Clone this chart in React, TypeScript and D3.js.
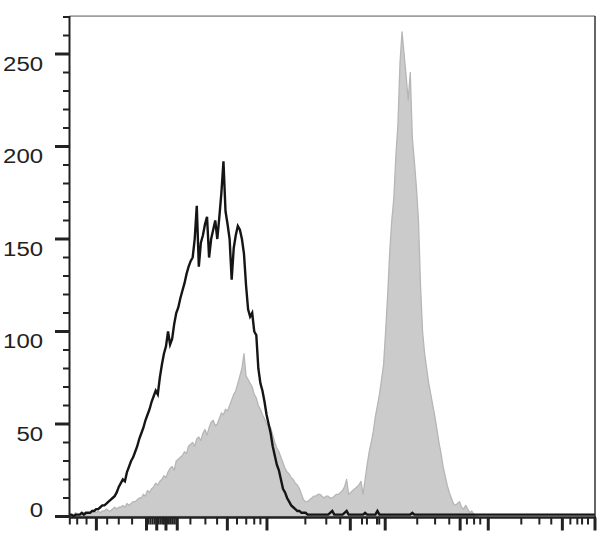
import React from "react";
import * as d3 from "d3";

// Histogram bins (display channel 0..256 across the logicle axis)
const controlCounts: number[] = [
  1, 1, 0, 1, 1, 1, 2, 1, 2, 2, 2, 3, 3, 4, 4, 5, 6, 6, 7, 8,
  9, 10, 11, 13, 16, 18, 20, 19, 24, 27, 30, 32, 35, 38, 42, 45, 48, 52, 55, 58,
  62, 65, 68, 66, 75, 82, 88, 92, 100, 93, 96, 104, 110, 113, 118, 122, 126, 131, 135, 138,
  140, 150, 168, 135, 148, 152, 158, 162, 140, 150, 155, 160, 150, 162, 175, 192, 165, 158, 150, 128,
  145, 152, 157, 155, 150, 142, 125, 112, 108, 110, 100, 98, 80, 72, 68, 62, 55, 50, 45, 38,
  33, 28, 25, 20, 15, 13, 10, 8, 6, 5, 4, 3, 3, 2, 2, 2, 1, 1, 1, 1,
  1, 1, 1, 1, 1, 1, 1, 2, 3, 1, 1, 1, 1, 1, 2, 3, 1, 1, 1, 1,
  1, 1, 1, 1, 2, 1, 1, 1, 1, 1, 3, 1, 1, 1, 1, 1, 1, 1, 1, 1,
  1, 1, 1, 1, 1, 1, 1, 2, 1, 1, 1, 1, 1, 1, 1, 1, 1, 1, 1, 1,
  1, 1, 1, 1, 1, 1, 1, 1, 1, 1, 1, 1, 1, 1, 1, 1, 1, 1, 1, 1,
  1, 1, 1, 1, 1, 1, 1, 1, 1, 1, 1, 1, 1, 1, 1, 1, 1, 1, 1, 1,
  1, 1, 1, 1, 1, 1, 1, 1, 1, 1, 1, 1, 1, 1, 1, 1, 1, 1, 1, 1,
  1, 1, 1, 1, 1, 1, 1, 1, 1, 1, 1, 1, 1, 1, 1, 1, 1,
];

const stainedCounts: number[] = [
  1, 1, 1, 2, 1, 1, 2, 2, 1, 2, 2, 2, 3, 2, 3, 2, 3, 3, 4, 3,
  3, 4, 5, 4, 5, 5, 6, 5, 7, 6, 7, 8, 8, 9, 10, 10, 12, 11, 14, 13,
  15, 16, 18, 17, 19, 20, 22, 21, 24, 26, 27, 25, 30, 31, 32, 33, 35, 34, 38, 39,
  40, 38, 42, 43, 41, 45, 47, 44, 48, 51, 52, 49, 50, 53, 56, 55, 58, 57, 60, 63,
  66, 68, 72, 76, 80, 88, 76, 74, 72, 70, 66, 64, 60, 58, 55, 53, 50, 49, 48, 44,
  40, 37, 35, 32, 29, 26, 24, 23, 21, 20, 18, 17, 15, 12, 9, 8, 8, 9, 10, 11,
  11, 12, 12, 11, 10, 11, 11, 10, 10, 11, 12, 12, 13, 14, 16, 20, 12, 13, 14, 15,
  16, 17, 19, 12, 20, 28, 35, 40, 46, 54, 60, 66, 74, 82, 100, 120, 143, 160, 172, 195,
  212, 245, 262, 250, 238, 225, 240, 205, 192, 178, 160, 125, 100, 88, 80, 72, 66, 60, 54, 47,
  40, 34, 27, 22, 17, 13, 10, 7, 6, 7, 8, 5, 4, 6, 4, 2, 3, 1, 0, 0,
];

const yTickValues: number[] = [0, 50, 100, 150, 200, 250];
const yTickLabels: string[] = ["0", "50", "100", "150", "200", "250"];
const yMinorValues: number[] = [10, 20, 30, 40, 60, 70, 80, 90, 110, 120, 130, 140, 160, 170, 180, 190, 210, 220, 230, 240, 260, 270];

// x-axis tick channels (logicle axis, no labels)
const xLongTicks: number[] = [13.1, 37.5, 42.5, 47, 52.5, 76.9, 96.2, 136.8, 153.8, 190.3, 204, 240.1, 256];
const xShortTicks: number[] = [
  0.15, 3.75, 8.3, 18.35, 24, 30.5,
  38.5, 39.5, 40.5, 41.5, 43.5, 44.5, 45.5, 46, 48, 49, 50, 51, 52,
  58.9, 66.2, 71.9, 81.6, 86.1, 90, 93,
  114.9, 125.1, 131.9, 142.5, 144.9, 149.8, 150.9,
  169.4, 178.1, 185, 193.6, 197.1, 200.1,
  220.1, 228.9, 234.7, 244, 247.4, 249.7, 252.6,
];

const W = 608;
const H = 545;
const left = 69.5;
const right = 595;
const Y0 = 516.5;
const Y250 = 54;
const yTop = 270.5;

export default function App() {
  const x = d3.scaleLinear().domain([0, 256]).range([left, right]);
  const y = d3.scaleLinear().domain([0, 250]).range([Y0, Y250]);

  const area = d3
    .area<number>()
    .x((_, i) => x(i))
    .y0(y(0))
    .y1((d) => y(d));
  const line = d3
    .line<number>()
    .x((_, i) => x(i))
    .y((d) => y(d));

  const axisY = y(0) + 1;
  const font = "'Liberation Sans', Arial, sans-serif";

  return (
    <svg
      width={W}
      height={H}
      style={{ position: "absolute", left: 0, top: 0, background: "#fff" }}
    >
      <rect x={0} y={0} width={W} height={H} fill="#fff" />
      {/* stained histogram */}
      <path d={area(stainedCounts) || ""} fill="#cbcbcb" stroke="#b6b6b6" strokeWidth={1.3} strokeLinejoin="round" />
      {/* control histogram */}
      <path d={line(controlCounts) || ""} fill="none" stroke="#151515" strokeWidth={2.4} strokeLinejoin="miter" />

      {/* frame */}
      <line x1={left} x2={right} y1={y(yTop)} y2={y(yTop)} stroke="#555" strokeWidth={1} />
      <line x1={right} x2={right} y1={y(yTop)} y2={axisY} stroke="#333" strokeWidth={1.5} />
      <line x1={left} x2={left} y1={y(yTop)} y2={axisY} stroke="#222" strokeWidth={2} />
      <line x1={left} x2={right + 1} y1={axisY} y2={axisY} stroke="#222" strokeWidth={2.5} />

      {/* y ticks */}
      {yTickValues.map((v) => (
        <line key={"ym" + v} x1={55} x2={left} y1={y(v)} y2={y(v)} stroke="#222" strokeWidth={3} />
      ))}
      {yMinorValues.map((v) => (
        <line key={"yn" + v} x1={63} x2={left} y1={y(v)} y2={y(v)} stroke="#222" strokeWidth={2} />
      ))}
      {yTickValues.map((v, i) => (
        <text
          key={"yl" + v}
          x={0}
          y={0}
          transform={`translate(43, ${v === 0 ? y(v) + 0.5 : y(v) + 16.5}) scale(1.14, 1)`}
          textAnchor="end"
          fontFamily={font}
          fontSize={21}
          fill="#222"
        >
          {yTickLabels[i]}
        </text>
      ))}

      {/* x ticks */}
      {xShortTicks.map((v, i) => (
        <line key={"xs" + i} x1={x(v)} x2={x(v)} y1={axisY} y2={axisY + 7} stroke="#222" strokeWidth={2} />
      ))}
      {xLongTicks.map((v, i) => (
        <line key={"xl" + i} x1={x(v)} x2={x(v)} y1={axisY} y2={axisY + 13} stroke="#222" strokeWidth={3} />
      ))}
    </svg>
  );
}
